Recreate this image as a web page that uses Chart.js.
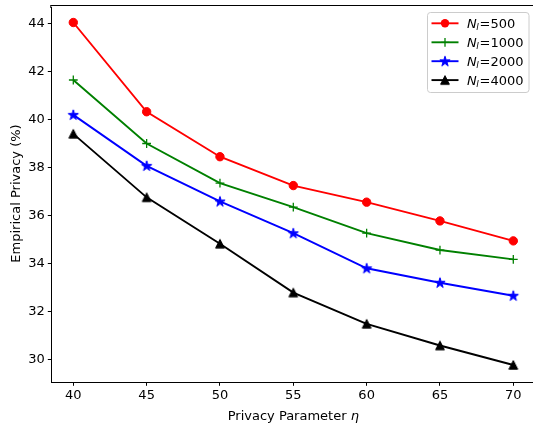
<!DOCTYPE html>
<html>
<head>
<meta charset="utf-8">
<script src="https://cdn.jsdelivr.net/npm/chart.js@4/dist/chart.umd.min.js"></script>
<style>
html,body{margin:0;padding:0;background:#fff;overflow:hidden;}
#wrap{width:545px;height:426px;position:relative;}
</style>
</head>
<body>
<div id="wrap"><canvas id="c" width="545" height="426"></canvas></div>
<script>
// ---- data ----
const etaValues = [40, 45, 50, 55, 60, 65, 70];
const privacy500 = [44.03, 40.32, 38.45, 37.25, 36.56, 35.78, 34.95];
const privacy1000 = [41.64, 39.0, 37.35, 36.35, 35.27, 34.57, 34.18];
const privacy2000 = [40.19, 38.07, 36.59, 35.27, 33.81, 33.21, 32.67];
const privacy4000 = [39.4, 36.76, 34.83, 32.8, 31.5, 30.6, 29.79];
const seriesSizes = ['500', '1000', '2000', '4000'];
const xTickLabels = ['40', '45', '50', '55', '60', '65', '70'];
const yTickLabels = ['30', '32', '34', '36', '38', '40', '42', '44'];

const FONT = 'DejaVu Sans';
const FS = 13;
const PLOT_RIGHT = 535.3;

function makeImg(w, h, draw) {
  const c = document.createElement('canvas');
  c.width = w; c.height = h;
  const g = c.getContext('2d');
  draw(g);
  return c;
}
const starImg = makeImg(14, 14, g => {
  const cx = 7, cy = 7.3, R = 5.4, r = R * 0.382;
  g.beginPath();
  for (let i = 0; i < 10; i++) {
    const a = -Math.PI / 2 + i * Math.PI / 5;
    const rr = i % 2 === 0 ? R : r;
    const x = cx + rr * Math.cos(a), y = cy + rr * Math.sin(a);
    if (i === 0) g.moveTo(x, y); else g.lineTo(x, y);
  }
  g.closePath();
  g.fillStyle = '#0000ff'; g.fill();
  g.strokeStyle = '#0000ff'; g.lineWidth = 1; g.stroke();
});
const triImg = makeImg(14, 14, g => {
  g.beginPath();
  g.moveTo(7, 2.6); g.lineTo(11.4, 11.2); g.lineTo(2.6, 11.2); g.closePath();
  g.fillStyle = '#000'; g.fill();
  g.strokeStyle = '#000'; g.lineWidth = 1; g.stroke();
});

function pts(arr) { return etaValues.map((x, i) => ({x: x, y: arr[i]})); }

const colors = ['#ff0000', '#008000', '#0000ff', '#000000'];
const styles = ['circle', 'cross', starImg, triImg];
const radii = [4.2, 4.4, 6, 6];
const allData = [privacy500, privacy1000, privacy2000, privacy4000];

const datasets = allData.map((arr, i) => ({
  label: 'N_l=' + seriesSizes[i],
  data: pts(arr),
  borderColor: colors[i],
  backgroundColor: colors[i],
  borderWidth: 1.9,
  pointStyle: styles[i],
  pointRadius: radii[i],
  pointBorderWidth: i === 1 ? 1.3 : 1,
  pointBorderColor: colors[i],
  pointBackgroundColor: colors[i],
  tension: 0,
  fill: false
}));

const framePlugin = {
  id: 'frame',
  afterDraw(chart) {
    const {ctx, chartArea: a} = chart;
    ctx.save();
    // plot frame continues past the visible right edge: keep that strip clean
    ctx.fillStyle = '#ffffff';
    ctx.fillRect(529.8, 6.2, chart.width - 529.8, a.bottom - 6.9);
    ctx.strokeStyle = '#000'; ctx.lineWidth = 1;
    ctx.beginPath();
    ctx.moveTo(a.left - 0.5, 5.5); ctx.lineTo(chart.width, 5.5);
    ctx.moveTo(a.left - 0.5, 5); ctx.lineTo(a.left - 0.5, a.top + 1);
    ctx.stroke();

    // axis titles
    ctx.fillStyle = '#000';
    ctx.textBaseline = 'alphabetic';
    const t1 = 'Privacy Parameter ';
    ctx.font = FS + 'px "' + FONT + '"';
    const w1 = ctx.measureText(t1).width;
    ctx.font = 'italic ' + FS + 'px "' + FONT + '"';
    const w2 = ctx.measureText('η').width;
    const xc = (a.left + a.right) / 2;
    let sx = xc - (w1 + w2) / 2;
    ctx.font = FS + 'px "' + FONT + '"';
    ctx.textAlign = 'left';
    ctx.fillText(t1, sx, 420);
    ctx.font = 'italic ' + FS + 'px "' + FONT + '"';
    ctx.fillText('η', sx + w1, 420);

    ctx.save();
    ctx.translate(16.5, 193.5);
    ctx.rotate(-Math.PI / 2);
    ctx.font = FS + 'px "' + FONT + '"';
    ctx.textAlign = 'center';
    ctx.textBaseline = 'middle';
    ctx.fillText('Empirical Privacy (%)', 0, 0);
    ctx.restore();

    // legend
    const lx = 427.5, ly = 12.5, lw = 101.5, lh = 80;
    ctx.beginPath();
    if (ctx.roundRect) ctx.roundRect(lx, ly, lw, lh, 3); else ctx.rect(lx, ly, lw, lh);
    ctx.fillStyle = 'rgba(255,255,255,0.8)';
    ctx.fill();
    ctx.strokeStyle = '#cccccc'; ctx.lineWidth = 1;
    ctx.stroke();
    const rows = [23.3, 42.3, 61.2, 80.1];
    for (let i = 0; i < 4; i++) {
      const y = rows[i];
      ctx.strokeStyle = colors[i]; ctx.lineWidth = 1.9;
      ctx.beginPath(); ctx.moveTo(431.5, y); ctx.lineTo(458.5, y); ctx.stroke();
      const mx = 445;
      if (i === 0) {
        ctx.beginPath(); ctx.arc(mx, y, 4.2, 0, Math.PI * 2);
        ctx.fillStyle = colors[0]; ctx.fill();
      } else if (i === 1) {
        ctx.lineWidth = 1.3;
        ctx.beginPath(); ctx.moveTo(mx - 4.4, y); ctx.lineTo(mx + 4.4, y);
        ctx.moveTo(mx, y - 4.4); ctx.lineTo(mx, y + 4.4); ctx.stroke();
      } else if (i === 2) {
        ctx.drawImage(starImg, mx - 7, y - 7);
      } else {
        ctx.drawImage(triImg, mx - 7, y - 7);
      }
      ctx.fillStyle = '#000';
      ctx.textAlign = 'left';
      ctx.textBaseline = 'alphabetic';
      const by = y + 4.7;
      let tx = 467;
      ctx.font = 'italic ' + FS + 'px "' + FONT + '"';
      ctx.fillText('N', tx, by);
      tx += ctx.measureText('N').width;
      ctx.font = 'italic 9px "' + FONT + '"';
      ctx.fillText('l', tx - 0.5, by + 2);
      tx += ctx.measureText('l').width + 0.3;
      ctx.font = FS + 'px "' + FONT + '"';
      ctx.fillText('=' + seriesSizes[i], tx, by);
    }
    ctx.restore();
  }
};

const chart = new Chart(document.getElementById('c'), {
  type: 'line',
  data: {datasets: datasets},
  plugins: [framePlugin],
  options: {
    responsive: false,
    animation: false,
    devicePixelRatio: 1,
    layout: {padding: {top: 5, right: 545 - PLOT_RIGHT, left: 0, bottom: 0}},
    plugins: {legend: {display: false}, tooltip: {enabled: false}},
    scales: {
      x: {
        type: 'linear',
        min: 38.5, max: 71.5,
        afterBuildTicks: s => { s.ticks = xTickLabels.map(v => ({value: Number(v)})); },
        afterFit: s => { s.height = 43.7; s.paddingRight = 0; s.paddingLeft = 0; },
        ticks: {color: '#000', font: {family: FONT, size: FS}, padding: 2, maxRotation: 0,
                callback: v => String(v)},
        grid: {display: true, drawOnChartArea: false, drawTicks: true, tickLength: 3.5, color: '#000', tickColor: '#000'},
        border: {display: true, color: '#000', width: 1}
      },
      y: {
        type: 'linear',
        min: 29.07, max: 44.675,
        afterBuildTicks: s => { s.ticks = yTickLabels.map(v => ({value: Number(v)})); },
        afterFit: s => { s.width = 51.3; s.paddingTop = 0; s.paddingBottom = 0; },
        ticks: {color: '#000', font: {family: FONT, size: FS}, padding: 3,
                callback: v => String(v)},
        grid: {display: true, drawOnChartArea: false, drawTicks: true, tickLength: 3.5, color: '#000', tickColor: '#000'},
        border: {display: true, color: '#000', width: 1}
      }
    }
  }
});
</script>
</body>
</html>
